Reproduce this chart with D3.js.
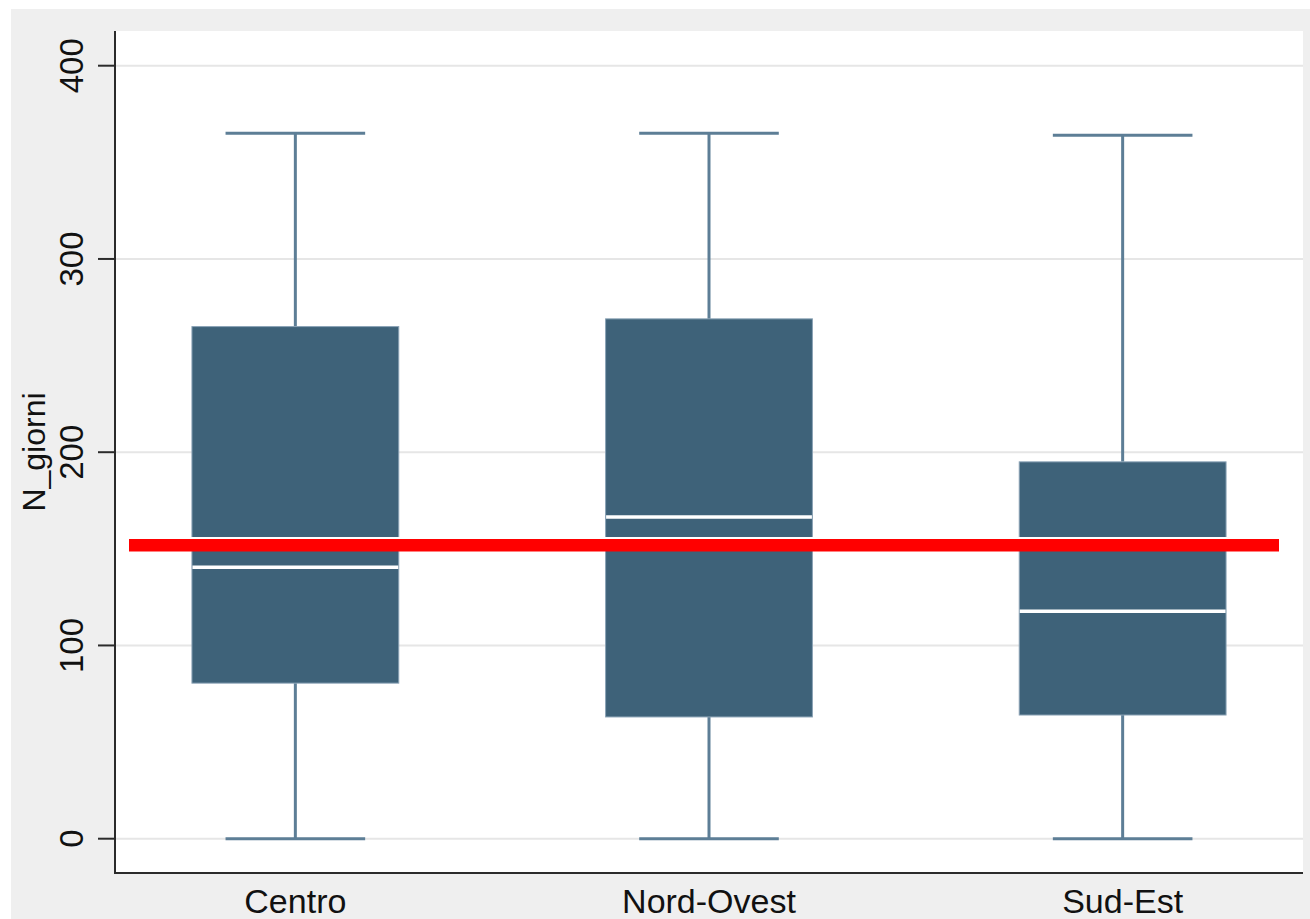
<!DOCTYPE html>
<html>
<head>
<meta charset="utf-8">
<script src="https://cdn.jsdelivr.net/npm/d3@7"></script>
<style>
  html, body { margin: 0; padding: 0; background: #ffffff; }
  svg { display: block; }
  text { font-family: "Liberation Sans", Arial, sans-serif; fill: #111; }
</style>
</head>
<body>
<svg id="chart" width="1310" height="919"></svg>
<script>
// ---- Data ----
const categories = ["Centro", "Nord-Ovest", "Sud-Est"];
const whiskerLow = [0, 0, 0];
const q1 = [80.5, 63, 64];
const median = [140.5, 166.5, 117.7];
const q3 = [265, 269, 195];
const whiskerHigh = [365, 365, 364];
const refLineValue = 151.8;
const yTicks = [0, 100, 200, 300, 400];
const yLabel = "N_giorni";

// ---- Layout ----
const W = 1310, H = 919;
const plot = { left: 115, right: 1303, top: 31, bottom: 873 };
const svg = d3.select("#chart");

// outer gray background
svg.append("rect").attr("x", 11).attr("y", 9).attr("width", W - 11).attr("height", H - 9).attr("fill", "#efefef");
// plot area
svg.append("rect").attr("x", plot.left).attr("y", plot.top)
  .attr("width", plot.right - plot.left).attr("height", plot.bottom - plot.top).attr("fill", "#ffffff");

const y = d3.scaleLinear().domain([0, 400]).range([838.7, 65.7]);
const x = d3.scaleBand().domain(categories).range([plot.left, plot.right])
  .paddingInner(0.5).paddingOuter(0.186);

// grid lines
svg.append("g").selectAll("line").data(yTicks).join("line")
  .attr("x1", plot.left).attr("x2", plot.right)
  .attr("y1", d => y(d)).attr("y2", d => y(d))
  .attr("stroke", "#e6e6e6").attr("stroke-width", 2);

const boxes = categories.map((c, i) => ({
  c, lo: whiskerLow[i], q1: q1[i], med: median[i], q3: q3[i], hi: whiskerHigh[i]
}));

const bw = x.bandwidth();
const capW = bw * 0.675;
const g = svg.append("g");
const whiskColor = "#5d7e96";

boxes.forEach(b => {
  const cx = x(b.c) + bw / 2;
  // whiskers
  g.append("line").attr("x1", cx).attr("x2", cx).attr("y1", y(b.hi)).attr("y2", y(b.q3))
    .attr("stroke", whiskColor).attr("stroke-width", 3);
  g.append("line").attr("x1", cx).attr("x2", cx).attr("y1", y(b.q1)).attr("y2", y(b.lo))
    .attr("stroke", whiskColor).attr("stroke-width", 3);
  g.append("line").attr("x1", cx - capW / 2).attr("x2", cx + capW / 2).attr("y1", y(b.hi)).attr("y2", y(b.hi))
    .attr("stroke", whiskColor).attr("stroke-width", 3);
  g.append("line").attr("x1", cx - capW / 2).attr("x2", cx + capW / 2).attr("y1", y(b.lo)).attr("y2", y(b.lo))
    .attr("stroke", whiskColor).attr("stroke-width", 3);
  // box
  g.append("rect").attr("x", x(b.c)).attr("y", y(b.q3))
    .attr("width", bw).attr("height", y(b.q1) - y(b.q3))
    .attr("fill", "#3e6279").attr("stroke", "#8aa2b5").attr("stroke-width", 1);
  // median
  g.append("line").attr("x1", x(b.c) + 0.5).attr("x2", x(b.c) + bw - 0.5)
    .attr("y1", y(b.med)).attr("y2", y(b.med))
    .attr("stroke", "#ffffff").attr("stroke-width", 3.5);
});

// reference line (red with thin white edge on top)
const refX1 = 129, refX2 = 1279;
svg.append("line").attr("x1", refX1).attr("x2", refX2)
  .attr("y1", y(refLineValue) - 7.2).attr("y2", y(refLineValue) - 7.2)
  .attr("stroke", "#ffffff").attr("stroke-width", 2.2);
svg.append("line").attr("x1", refX1).attr("x2", refX2)
  .attr("y1", y(refLineValue)).attr("y2", y(refLineValue))
  .attr("stroke", "#ff0000").attr("stroke-width", 12.5);

// y axis
const axisColor = "#2b2b2b";
svg.append("line").attr("x1", plot.left).attr("x2", plot.left).attr("y1", plot.top).attr("y2", plot.bottom + 1)
  .attr("stroke", axisColor).attr("stroke-width", 2);
svg.append("g").selectAll("line").data(yTicks).join("line")
  .attr("x1", 98).attr("x2", plot.left).attr("y1", d => y(d)).attr("y2", d => y(d))
  .attr("stroke", axisColor).attr("stroke-width", 2);
svg.append("g").selectAll("text").data(yTicks).join("text")
  .attr("transform", d => `translate(83,${y(d)}) rotate(-90)`)
  .attr("text-anchor", "middle")
  .attr("font-size", 33)
  .text(d => d);

// x axis
svg.append("line").attr("x1", plot.left - 1).attr("x2", plot.right).attr("y1", plot.bottom).attr("y2", plot.bottom)
  .attr("stroke", axisColor).attr("stroke-width", 2);
svg.append("g").selectAll("text").data(categories).join("text")
  .attr("x", d => x(d) + bw / 2).attr("y", 913)
  .attr("text-anchor", "middle").attr("font-size", 34)
  .text(d => d);

// y label
svg.append("text")
  .attr("transform", `translate(45,${(plot.top + plot.bottom) / 2}) rotate(-90)`)
  .attr("text-anchor", "middle").attr("font-size", 32)
  .text(yLabel);
</script>
</body>
</html>
